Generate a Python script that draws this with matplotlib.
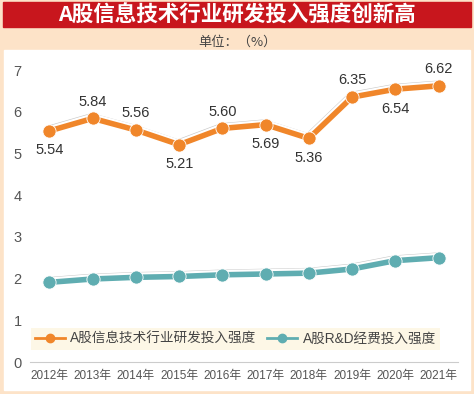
import matplotlib.pyplot as plt
import matplotlib.patheffects as pe
from matplotlib.patches import Rectangle
from matplotlib.lines import Line2D

plt.rcParams['font.family'] = ['Liberation Sans', 'Noto Sans CJK SC', 'DejaVu Sans']

years = ['2012年', '2013年', '2014年', '2015年', '2016年',
         '2017年', '2018年', '2019年', '2020年', '2021年']
it_intensity = [5.54, 5.84, 5.56, 5.21, 5.60, 5.69, 5.36, 6.35, 6.54, 6.62]
rd_intensity = [1.91, 1.99, 2.03, 2.05, 2.09, 2.11, 2.13, 2.23, 2.43, 2.50]
label_above = [False, True, True, False, True, False, False, True, False, True]

ORANGE = '#f0862a'
TEAL = '#5fadb1'
PEACH = '#fde3c8'
RED = '#c8161d'

fig = plt.figure(figsize=(4.74, 3.94), dpi=100)
fig.patch.set_facecolor(PEACH)

# title band and white panel (behind the axes)
fig.patches.append(Rectangle((3 / 474, 1 - 27 / 394), 468 / 474, 25 / 394,
                             transform=fig.transFigure, color=RED, zorder=-2))
fig.patches.append(Rectangle((4 / 474, 4 / 394), 466 / 474, 340 / 394,
                             transform=fig.transFigure, color='white', zorder=-2))
fig.text(0.5, 1 - 15 / 394, 'A股信息技术行业研发投入强度创新高', color='white',
         fontsize=15.5, fontweight='bold', ha='center', va='center',
         family=['Noto Sans CJK SC'])
fig.text(0.5, 1 - 42 / 394, '单位：（%）', color='#444444', fontsize=9.5,
         ha='center', va='center', family=['Noto Sans CJK SC'])

ax = fig.add_axes([30 / 474, 32 / 394, 428 / 474, 292 / 394])
ax.set_facecolor('none')
x = list(range(len(years)))

shadow = [pe.SimpleLineShadow(offset=(-0.8, 1.8), shadow_color='#888888', alpha=0.45),
          pe.Stroke(linewidth=7, foreground='white'), pe.Normal()]

for series, col in [(it_intensity, ORANGE), (rd_intensity, TEAL)]:
    ax.plot(x, series, color=col, lw=4, path_effects=shadow, zorder=3)
    ax.plot(x, series, ls='none', marker='o', ms=9.5, color=col,
            markeredgecolor='white', markeredgewidth=0.6, zorder=4)

for i, v in enumerate(it_intensity):
    dy = 12 if label_above[i] else -14
    ax.annotate(f'{v:.2f}', (i, v), xytext=(0, dy), textcoords='offset points',
                ha='center', va='center', fontsize=10.5, color='#333333')

ax.set_xlim(-0.45, 9.45)
ax.set_ylim(0, 7)
ax.set_yticks(range(8))
ax.set_xticks(x)
ax.set_xticklabels(years, family=['Liberation Sans', 'Noto Sans CJK SC'])
ax.tick_params(axis='both', length=0, colors='#555555')
ax.tick_params(axis='y', pad=6, labelsize=10.5)
ax.tick_params(axis='x', pad=6, labelsize=8.5)
for s in ['top', 'right', 'left']:
    ax.spines[s].set_visible(False)
ax.spines['bottom'].set_color('#cccccc')

handles = [Line2D([], [], color=ORANGE, lw=2, marker='o', ms=6),
           Line2D([], [], color=TEAL, lw=2, marker='o', ms=6)]
leg = ax.legend(handles, ['A股信息技术行业研发投入强度', 'A股R&D经费投入强度'],
                loc='center', bbox_to_anchor=(0.48, 0.08), ncol=2,
                frameon=True, handlelength=2.2, columnspacing=0.8,
                handletextpad=0.4, borderpad=0.3, borderaxespad=0,
                prop={'family': ['Liberation Sans', 'Noto Sans CJK SC'], 'size': 9.8})
leg.get_frame().set_facecolor('#fdf7e6')
leg.get_frame().set_edgecolor('none')
leg.get_frame().set_alpha(1)
leg.get_frame().set_boxstyle('square', pad=0)
for t in leg.get_texts():
    t.set_color('#444444')

fig.savefig('out.png', dpi=100, facecolor=fig.get_facecolor())
